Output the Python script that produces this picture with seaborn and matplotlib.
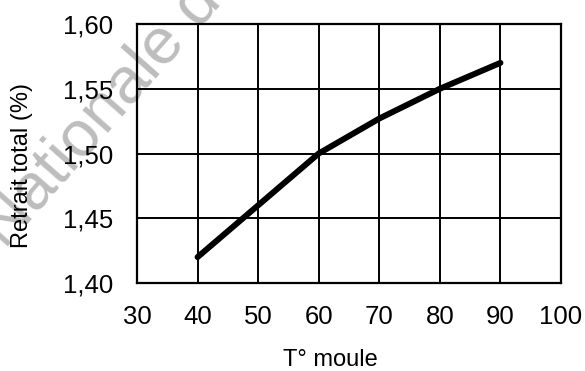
import matplotlib
matplotlib.use("Agg")
import matplotlib.pyplot as plt
import seaborn as sns
import pandas as pd

temperature = [40, 50, 60, 70, 80, 90]
retrait = [1.42, 1.46, 1.50, 1.527, 1.55, 1.57]
x_ticks = [30, 40, 50, 60, 70, 80, 90, 100]
y_ticks = [1.40, 1.45, 1.50, 1.55, 1.60]
y_tick_labels = ["1,40", "1,45", "1,50", "1,55", "1,60"]
x_label = "T° moule"
y_label = "Retrait total (%)"
watermark = "Nationale de"

sns.set_theme(style="white")
plt.rcParams['font.family'] = ['Liberation Sans', 'DejaVu Sans']

df = pd.DataFrame({"T": temperature, "R": retrait})

fig = plt.figure(figsize=(5.85, 3.71), dpi=100)
fig.patch.set_facecolor("white")
fig.text(5 / 585, 1 - 250 / 371, watermark, rotation=48.6, rotation_mode="anchor",
         ha="left", va="baseline", fontsize=47, color="#bdbdbd", zorder=-10)

ax = fig.add_axes([137 / 585, 1 - 283 / 371, (561 - 137) / 585, (283 - 24) / 371])
ax.set_zorder(1)
ax.patch.set_alpha(0)

sns.lineplot(data=df, x="T", y="R", ax=ax, color="black", linewidth=4.3,
             solid_capstyle="round", solid_joinstyle="round", zorder=5)

ax.set_xlim(30, 100)
ax.set_ylim(1.40, 1.60)
ax.set_xticks(x_ticks)
ax.set_xticklabels([str(v) for v in x_ticks])
ax.set_yticks(y_ticks)
ax.set_yticklabels(y_tick_labels)
ax.grid(True, color="black", linewidth=1.4)
ax.set_axisbelow(False)
for s in ax.spines.values():
    s.set_visible(True)
    s.set_color("black")
    s.set_linewidth(1.6)
ax.tick_params(axis="both", length=0, labelsize=18.5, colors="black")
ax.tick_params(axis="x", pad=16)
ax.tick_params(axis="y", pad=17)
ax.set_xlabel(x_label, fontsize=17, color="black")
ax.set_ylabel(y_label, fontsize=17, color="black")
ax.xaxis.set_label_coords((330.5 - 137) / 424, (283 - 349) / 259)
ax.yaxis.set_label_coords((33 - 137) / 424, (283 - 166) / 259)

fig.savefig("out.png", dpi=100, facecolor="white")
